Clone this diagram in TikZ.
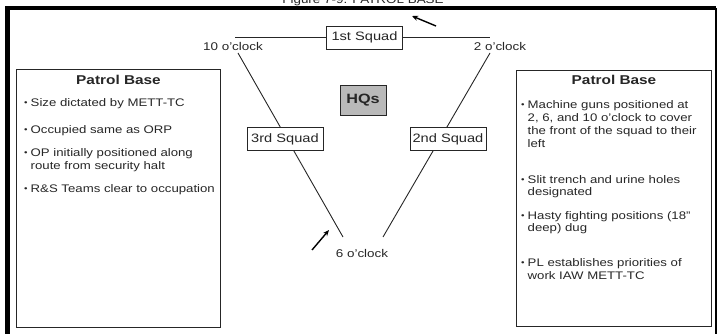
\documentclass[tikz,border=0pt]{standalone}
\usepackage{fontspec}
\setmainfont{Liberation Sans}[FakeStretch=1.2]
\usetikzlibrary{arrows.meta}
\newcommand\bul{\makebox[6.5pt][l]{\raisebox{1pt}{\scalebox{0.75}{\textbullet}}}}
\tikzset{
  sq/.style={draw, line width=0.9pt, fill=white, minimum width=76pt, minimum height=23pt, inner sep=1pt, font=\fontsize{12.2}{13}\selectfont},
  hq/.style={draw, line width=0.9pt, fill=gray!55, minimum width=46pt, minimum height=30pt, font=\fontsize{13.5}{15}\selectfont\bfseries},
  panel/.style={draw, line width=1pt},
  bullist/.style={anchor=base west, inner sep=0pt, font=\fontsize{11}{13}\selectfont},
  ttl/.style={anchor=base, inner sep=0pt, font=\fontsize{12.8}{15}\selectfont\bfseries},
  lbl/.style={anchor=base, inner sep=0pt},
  edge/.style={line width=0.9pt},
  pointer/.style={line width=1.4pt, -{Stealth[length=6pt,width=5pt]}},
}
\begin{document}
\begin{tikzpicture}[x=1pt,y=-1pt,font=\fontsize{11.2}{13}\selectfont, color=black!85]
\useasboundingbox (0,0) rectangle (718,334);
% title (cut by the page edge, as in the reference)
\node[lbl] (fig) at (363,3.5) {Figure 7-9. PATROL BASE};
% outer frame
\draw[black, line width=4.5pt] (7.5,340) -- (7.5,8.2) -- (716,8.2);
\draw[black, line width=2pt] (716,8.2) -- (716,340);
% panels
\node[panel, minimum width=204pt, minimum height=258pt, anchor=north west] (lp) at (16,69) {};
\node[panel, minimum width=195pt, minimum height=256pt, anchor=north west] (rp) at (516,70) {};
\node[ttl] (lt) at (lp.north |- 0,85) {Patrol Base};
\node[ttl] (rt) at (rp.north |- 0,85) {Patrol Base};
% left list
\node[bullist] (l1) at (24,107) {\bul Size dictated by METT-TC};
\node[bullist] (l2) at (24,134) {\bul Occupied same as ORP};
\node[bullist] (l3) at (24,157) {\bul\begin{tabular}[t]{@{}l@{}}OP initially positioned along\\route from security halt\end{tabular}};
\node[bullist] (l4) at (24,193) {\bul R\&S Teams clear to occupation};
% right list
\node[bullist] (r1) at (521,109) {\bul\begin{tabular}[t]{@{}l@{}}Machine guns positioned at\\2, 6, and 10 o'clock to cover\\the front of the squad to their\\left\end{tabular}};
\node[bullist] (r2) at (521,183) {\bul\begin{tabular}[t]{@{}l@{}}Slit trench and urine holes\\designated\end{tabular}};
\node[bullist] (r3) at (521,219) {\bul\begin{tabular}[t]{@{}l@{}}Hasty fighting positions (18"\\deep) dug\end{tabular}};
\node[bullist] (r4) at (521,266) {\bul\begin{tabular}[t]{@{}l@{}}PL establishes priorities of\\work IAW METT-TC\end{tabular}};
% triangle corners
\coordinate (tl) at (235,37);
\coordinate (tr) at (490,37);
\coordinate (a10) at (238,53);
\coordinate (a2) at (490,53);
\coordinate (b6l) at (343,237);
\coordinate (b6r) at (383,237);
\draw[edge] (tl) -- (tr);
\draw[edge] (a10) -- (b6l);
\draw[edge] (a2) -- (b6r);
% squads
\node[sq] (s1) at (364.5,37.5) {1st Squad};
\node[sq] (s3) at (285,139) {3rd Squad};
\node[sq] (s2) at (448,139) {2nd Squad};
\node[hq] (hq) at (363,100) {HQs};
% clock labels
\node[lbl] (c10) at (233,51) {10 o'clock};
\node[lbl] (c2) at (500,51) {2 o'clock};
\node[lbl] (c6) at (362,257) {6 o'clock};
% pointers
\coordinate (pt1) at (436,26);
\coordinate (pt1h) at (412,16);
\coordinate (pt2) at (312,250);
\coordinate (pt2h) at (329,230);
\draw[pointer, black] (pt1) -- (pt1h);
\draw[pointer, black] (pt2) -- (pt2h);
\end{tikzpicture}
\end{document}
